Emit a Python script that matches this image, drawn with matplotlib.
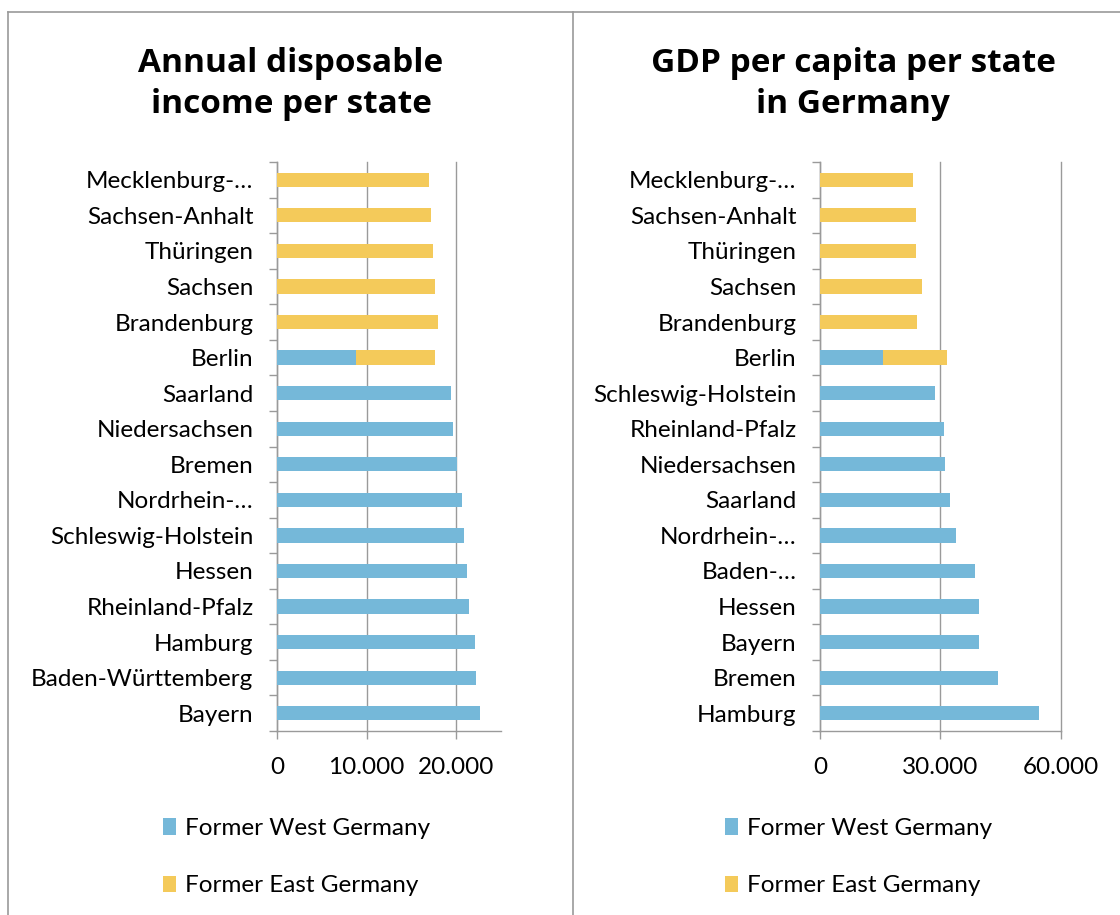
import numpy as np
import matplotlib.pyplot as plt
from matplotlib.patches import Patch
from matplotlib.lines import Line2D
from matplotlib.ticker import FixedLocator, FuncFormatter

plt.rcParams['font.family'] = ['Lato', 'DejaVu Sans']

# --- data: left panel (annual disposable income, EUR), top to bottom
inc_states = ["Mecklenburg-…", "Sachsen-Anhalt", "Thüringen", "Sachsen", "Brandenburg",
              "Berlin", "Saarland", "Niedersachsen", "Bremen", "Nordrhein-…",
              "Schleswig-Holstein", "Hessen", "Rheinland-Pfalz", "Hamburg",
              "Baden-Württemberg", "Bayern"]
inc_west = [0, 0, 0, 0, 0, 8830, 19370, 19600, 20040, 20600,
            20860, 21150, 21380, 22050, 22160, 22650]
inc_east = [16950, 17170, 17400, 17650, 17950, 8820, 0, 0, 0, 0,
            0, 0, 0, 0, 0, 0]

# --- data: right panel (GDP per capita, EUR), top to bottom
gdp_states = ["Mecklenburg-…", "Sachsen-Anhalt", "Thüringen", "Sachsen", "Brandenburg",
              "Berlin", "Schleswig-Holstein", "Rheinland-Pfalz", "Niedersachsen",
              "Saarland", "Nordrhein-…", "Baden-…", "Hessen", "Bayern", "Bremen",
              "Hamburg"]
gdp_west = [0, 0, 0, 0, 0, 15670, 28600, 31000, 31250, 32350,
            33920, 38750, 39670, 39670, 44340, 54580]
gdp_east = [23100, 24000, 23850, 25500, 24170, 15930, 0, 0, 0, 0,
            0, 0, 0, 0, 0, 0]

series_names = ["Former West Germany", "Former East Germany"]
blue = "#75B8D9"
yellow = "#F4CA5A"
gray = "#9a9a9a"
fs = 17.5

fig = plt.figure(figsize=(11.2, 9.15), dpi=100)


def panel(rect, states, west, east, xmax, xticks, title, title_x, leg_x):
    ax = fig.add_axes(rect)
    y = np.arange(len(states))
    ax.barh(y, west, height=0.4, color=blue, zorder=3)
    ax.barh(y, east, left=west, height=0.4, color=yellow, zorder=3)
    ax.set_xlim(0, xmax)
    ax.set_ylim(len(states) - 0.5, -0.5)
    ax.set_yticks(y)
    ax.set_yticklabels(states, fontsize=fs)
    ax.yaxis.set_minor_locator(FixedLocator(np.arange(len(states) + 1) - 0.5))
    ax.tick_params(axis='y', which='major', length=0, pad=17)
    ax.tick_params(axis='y', which='minor', length=6, width=1, color=gray, direction='out')
    ax.set_xticks(xticks)
    ax.xaxis.set_major_formatter(FuncFormatter(lambda v, p: f"{int(v):,}".replace(",", ".")))
    ax.tick_params(axis='x', length=6, width=1, color=gray, labelsize=fs, pad=13)
    ax.grid(axis='x', color=gray, linewidth=1, zorder=0)
    for g in ax.get_xgridlines():
        g.set_clip_on(False)
    for s in ['top', 'right']:
        ax.spines[s].set_visible(False)
    for s in ['left', 'bottom']:
        ax.spines[s].set_color(gray)
        ax.spines[s].set_linewidth(1)
    for i, line in enumerate(title):
        fig.text(title_x, 1 - (72 + 41 * i) / 915, line, ha='center', va='baseline',
                 fontsize=24, fontweight='bold', family=['Open Sans', 'DejaVu Sans'])
    handles = [Patch(facecolor=blue), Patch(facecolor=yellow)]
    fig.legend(handles, series_names, loc='upper left',
               bbox_to_anchor=(leg_x, 1 - 818 / 915), frameon=False, fontsize=fs,
               handlelength=0.55, handleheight=0.65, handletextpad=0.35,
               labelspacing=1.5, borderaxespad=0, borderpad=0)
    return ax


panel([277 / 1120, 184 / 915, 224 / 1120, 569 / 915], inc_states, inc_west, inc_east,
      25000, [0, 10000, 20000], ["Annual disposable", "income per state"], 291 / 1120, 163 / 1120)
panel([820 / 1120, 184 / 915, 240.5 / 1120, 569 / 915], gdp_states, gdp_west, gdp_east,
      60000, [0, 30000, 60000], ["GDP per capita per state", "in Germany"], 853 / 1120, 725 / 1120)

# chart area borders
for xs, ys in [([8, 8], [0, 903]), ([8, 1120], [903, 903]), ([573, 573], [0, 903])]:
    fig.add_artist(Line2D(np.array(xs) / 1120, np.array(ys) / 915, color=gray, linewidth=1.2))

fig.savefig("out.png", dpi=100)
